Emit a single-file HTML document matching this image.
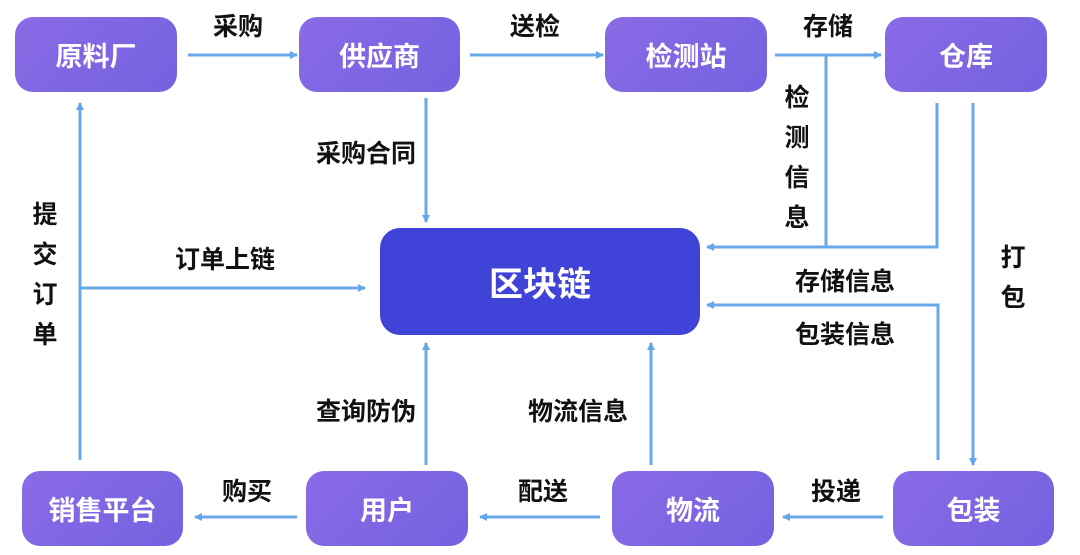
<!DOCTYPE html>
<html><head><meta charset="utf-8"><style>
body{margin:0;width:1080px;height:555px;background:#fff;overflow:hidden;font-family:"Liberation Sans","Noto Sans CJK SC",sans-serif;}
.b{position:absolute;border-radius:18px;background:linear-gradient(135deg,#8a6ae6,#7462e0);color:#fff;font-size:27px;font-weight:bold;display:flex;align-items:center;justify-content:center;}
.t{position:absolute;font-size:25px;font-weight:bold;color:#111;transform:translate(-50%,-50%);white-space:nowrap;}
.v{line-height:40px;text-align:center;width:30px;transform:translateX(-50%);}
svg{position:absolute;left:0;top:0}
</style></head><body>
<svg width="1080" height="555"><defs><marker id="a" markerWidth="8" markerHeight="8" refX="7" refY="4" orient="auto" markerUnits="userSpaceOnUse"><path d="M0,0L8,4L0,8z" fill="#65a5ec"/></marker></defs>
<g stroke="#6aa8ea" stroke-width="3" fill="none">
<path d="M188 55H297" marker-end="url(#a)"/>
<path d="M470 55H603" marker-end="url(#a)"/>
<path d="M775 55H881" marker-end="url(#a)"/>
<path d="M426 98V222" marker-end="url(#a)"/>
<path d="M826 55V247"/>
<path d="M937 103V247H707" marker-end="url(#a)"/>
<path d="M973 103V465" marker-end="url(#a)"/>
<path d="M938 460V305H707" marker-end="url(#a)"/>
<path d="M651 465V343" marker-end="url(#a)"/>
<path d="M883 517H783" marker-end="url(#a)"/>
<path d="M600 517H480" marker-end="url(#a)"/>
<path d="M297 517H195" marker-end="url(#a)"/>
<path d="M426 465V343" marker-end="url(#a)"/>
<path d="M80 460V103" marker-end="url(#a)"/>
<path d="M80 288H365" marker-end="url(#a)"/>
</g></svg>
<div class="b" style="left:15px;top:17px;width:162px;height:75px">原料厂</div>
<div class="b" style="left:299px;top:17px;width:161px;height:75px">供应商</div>
<div class="b" style="left:605px;top:17px;width:162px;height:75px">检测站</div>
<div class="b" style="left:885px;top:17px;width:162px;height:75px">仓库</div>
<div class="b" style="left:22px;top:471px;width:161px;height:75px">销售平台</div>
<div class="b" style="left:306px;top:471px;width:162px;height:75px">用户</div>
<div class="b" style="left:612px;top:471px;width:162px;height:75px">物流</div>
<div class="b" style="left:893px;top:471px;width:161px;height:75px">包装</div>
<div class="b" style="left:380px;top:228px;width:320px;height:107px;background:#3f43d8;font-size:34px;border-radius:20px">区块链</div>
<div class="t" style="left:238px;top:25px">采购</div>
<div class="t" style="left:535px;top:25px">送检</div>
<div class="t" style="left:828px;top:25px">存储</div>
<div class="t" style="left:366px;top:152px">采购合同</div>
<div class="t" style="left:225px;top:258px">订单上链</div>
<div class="t" style="left:845px;top:280px">存储信息</div>
<div class="t" style="left:845px;top:333px">包装信息</div>
<div class="t" style="left:366px;top:410px">查询防伪</div>
<div class="t" style="left:578px;top:410px">物流信息</div>
<div class="t" style="left:247px;top:490px">购买</div>
<div class="t" style="left:543px;top:490px">配送</div>
<div class="t" style="left:836px;top:490px">投递</div>
<div class="t v" style="left:797px;top:78px;transform:translateX(-50%)">检<br>测<br>信<br>息</div>
<div class="t v" style="left:45px;top:195px;transform:translateX(-50%)">提<br>交<br>订<br>单</div>
<div class="t v" style="left:1013px;top:238px;transform:translateX(-50%)">打<br>包</div>
</body></html>
